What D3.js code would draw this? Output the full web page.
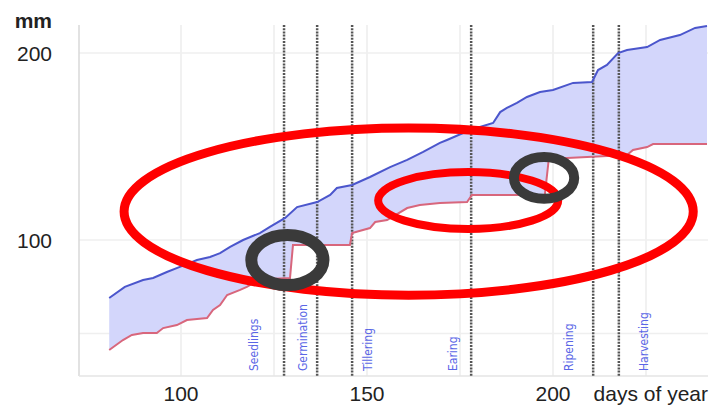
<!DOCTYPE html>
<html>
<head>
<meta charset="utf-8">
<script src="https://cdn.jsdelivr.net/npm/d3@7"></script>
<style>
  body { margin: 0; background: #fff; }
  svg { display: block; }
  .tick-label { font-family: "Liberation Sans", Arial, sans-serif; font-size: 21px; fill: #222; }
  .stage { font-family: "Liberation Sans Narrow", "DejaVu Sans Condensed", sans-serif; font-size: 12px; fill: #5a66e6; }
</style>
</head>
<body>
<div id="chart"></div>
<script>
// upper curve (blue) – day of year, mm
const upperDays = [80.7, 84.9, 89.8, 92.5, 96.2, 99.7, 104.3, 107.8, 110.5, 113.2, 116.7, 121.2, 123.9, 128.0, 131.2,
  136.6, 140.1, 141.9, 146.0, 150.8, 156.2, 160.8, 165.1, 169.6, 171.5, 177.7, 183.9, 185.8, 187.6, 190.3, 193.0,
  196.5, 200.0, 205.4, 210.5, 212.1, 214.5, 217.5, 219.9, 225.3, 228.8, 234.1, 238.2, 241.4];
const upperMm = [69.0, 74.9, 78.6, 79.7, 82.9, 85.6, 89.3, 90.9, 93.0, 96.3, 100, 103.7, 107.0, 111.8, 117.6,
  120.3, 124.1, 127.8, 129.4, 133.7, 139.0, 142.8, 147.1, 151.9, 153.5, 158.8, 162.6, 168.4, 170.6, 173.3, 176.5,
  179.1, 180.2, 184.0, 184.5, 190.9, 193.6, 200, 201.6, 203.2, 207.0, 209.6, 213.4, 214.4];

// lower curve (red)
const lowerDays = [80.7, 84.4, 86.8, 89.8, 93.5, 95.2, 98.9, 101.6, 104.3, 107.0, 108.6, 110.5, 112.4, 115.9, 117.7,
  120.4, 123.9, 129.3, 130.1, 145.4, 146.0, 150.8, 152.2, 155.4, 160.8, 164.2, 169.6, 176.9, 178.2, 197.8, 198.9,
  203.8, 219.9, 221.5, 225.3, 226.9, 241.4];
const lowerMm = [41.2, 46.5, 49.2, 50.3, 50.3, 52.9, 54.5, 57.2, 57.8, 58.3, 62.6, 65.2, 70.6, 73.3, 74.9,
  78.1, 79.1, 79.7, 97.3, 97.3, 103.7, 106.4, 109.6, 110.7, 117.1, 118.7, 119.8, 120.3, 124.1, 124.1, 143.9,
  143.9, 145.5, 148.1, 149.7, 151.3, 151.3];

// growth stages
const stageNames = ["Seedlings", "Germination", "Tillering", "Earing", "Ripening", "Harvesting"];
const stageDays = [127.7, 136.6, 146.0, 178.0, 210.8, 217.7];
const stageLabelDays = [119.6, 132.9, 150.2, 173.1, 204.2, 224.5];

const xTicks = [100, 150, 200];
const yTicks = [100, 200];
const xGrid = [100, 125, 150, 175, 200, 225];
const yGrid = [50, 100, 200];

// hand-drawn highlight marks: [day, mm, rx days, ry mm]
const redMarks = [[161.2, 115.2, 76.5, 44.7], [177.2, 121.1, 24.2, 15.2]];
const darkMarks = [[128.6, 89.3, 9.7, 13.4], [197.6, 133.2, 8.1, 11.2]];

const W = 710, H = 407;
const plot = { left: 79, right: 708, top: 25, bottom: 376 };

const x = d3.scaleLinear().domain([100, 200]).range([181, 553]);
const y = d3.scaleLinear().domain([100, 200]).range([240, 53]);

const svg = d3.select('#chart').append('svg').attr('width', W).attr('height', H);

// grid
svg.append('g').selectAll('line').data(xGrid).enter().append('line')
  .attr('x1', d => x(d)).attr('x2', d => x(d))
  .attr('y1', plot.top).attr('y2', plot.bottom)
  .attr('stroke', '#ececec').attr('stroke-width', 1.5);
svg.append('g').selectAll('line').data(yGrid).enter().append('line')
  .attr('x1', plot.left).attr('x2', plot.right)
  .attr('y1', d => y(d)).attr('y2', d => y(d))
  .attr('stroke', '#efefef').attr('stroke-width', 1.5);
svg.append('line')
  .attr('x1', plot.left).attr('x2', plot.left).attr('y1', plot.top).attr('y2', plot.bottom)
  .attr('stroke', '#d8d8d8').attr('stroke-width', 1.5);
svg.append('line')
  .attr('x1', plot.left).attr('x2', plot.right).attr('y1', plot.bottom).attr('y2', plot.bottom)
  .attr('stroke', '#e4e4e4').attr('stroke-width', 1.5);

const upper = upperDays.map((d, i) => [d, upperMm[i]]);
const lower = lowerDays.map((d, i) => [d, lowerMm[i]]);
const line = d3.line().x(d => x(d[0])).y(d => y(d[1]));

// band between the curves
svg.append('path')
  .attr('d', line(upper.concat(lower.slice().reverse())) + 'Z')
  .attr('fill', '#d3d6fb');

// stage markers
svg.append('g').selectAll('line').data(stageDays).enter().append('line')
  .attr('x1', d => x(d)).attr('x2', d => x(d))
  .attr('y1', plot.top).attr('y2', plot.bottom)
  .attr('stroke', '#555').attr('stroke-width', 2.5).attr('stroke-dasharray', '2,1.2');

svg.append('g').selectAll('text').data(stageNames).enter().append('text')
  .attr('class', 'stage')
  .attr('transform', (d, i) => `translate(${x(stageLabelDays[i]) + 4},371) rotate(-90)`)
  .text(d => d);

svg.append('path').attr('d', line(lower))
  .attr('fill', 'none').attr('stroke', '#d8667c').attr('stroke-width', 2);
svg.append('path').attr('d', line(upper))
  .attr('fill', 'none').attr('stroke', '#4b56cc').attr('stroke-width', 2);

// axis labels
svg.append('g').selectAll('text').data(xTicks).enter().append('text')
  .attr('class', 'tick-label').attr('text-anchor', 'middle')
  .attr('x', d => x(d)).attr('y', 401).text(d => d);
svg.append('text').attr('class', 'tick-label').attr('text-anchor', 'end')
  .attr('x', 708).attr('y', 401).text('days of year');
svg.append('g').selectAll('text').data(yTicks).enter().append('text')
  .attr('class', 'tick-label').attr('text-anchor', 'end')
  .attr('x', 52).attr('y', d => y(d) + 8).text(d => d);
svg.append('text').attr('class', 'tick-label').attr('text-anchor', 'end')
  .attr('font-weight', 'bold').attr('x', 52).attr('y', 28).text('mm');

// highlight marks
const ellipse = (sel, data, color, widths) => sel.selectAll(null).data(data).enter().append('ellipse')
  .attr('cx', d => x(d[0])).attr('cy', d => y(d[1]))
  .attr('rx', d => x(d[0] + d[2]) - x(d[0]))
  .attr('ry', d => y(d[1] - d[3]) - y(d[1]))
  .attr('fill', 'none').attr('stroke', color)
  .attr('stroke-width', (d, i) => widths[i]);
ellipse(svg.append('g'), redMarks, '#ff0000', [9, 8]);
ellipse(svg.append('g'), darkMarks, '#3a3a3a', [12, 10]);
</script>
</body>
</html>
